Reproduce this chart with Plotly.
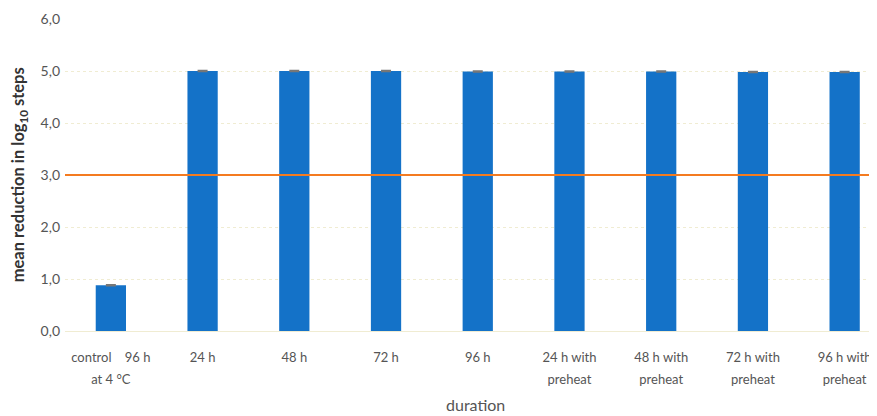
import plotly.graph_objects as go

categories = ["control at 4 °C", "24 h", "48 h", "72 h", "96 h",
              "24 h with preheat", "48 h with preheat", "72 h with preheat", "96 h with preheat"]
label_line1 = ["control    96 h", "24 h", "48 h", "72 h", "96 h",
               "24 h with", "48 h with", "72 h with", "96 h with"]
label_line2 = ["at 4 °C", "", "", "", "", "preheat", "preheat", "preheat", "preheat"]
mean_reduction = [0.88, 5.0, 5.0, 5.0, 4.99, 4.99, 4.99, 4.98, 4.98]
errors = [0.01, 0.01, 0.01, 0.01, 0.01, 0.01, 0.01, 0.01, 0.01]
threshold = 3.0
y_ticks = [0, 1, 2, 3, 4, 5, 6]

FONT = "Lato"
x_range = [-0.5, 8.44]

fig = go.Figure()
fig.add_trace(go.Bar(
    x=categories, y=mean_reduction,
    marker=dict(color="#1472C8", line=dict(width=0)),
    error_y=dict(type="data", array=errors, visible=True, color="#777777", thickness=1.5, width=5),
    showlegend=False, hoverinfo="skip",
))
# invisible carrier for the second tick-label line
fig.add_trace(go.Scatter(
    x=categories, y=mean_reduction, xaxis="x2", mode="markers",
    marker=dict(opacity=0), showlegend=False, hoverinfo="skip",
))
fig.add_shape(type="line", xref="paper", yref="y", x0=0, x1=1, y0=threshold, y1=threshold,
              line=dict(color="#F47B20", width=2.2), layer="above")

fig.update_layout(
    width=877, height=416,
    margin=dict(l=57, r=0, t=11, b=93),
    paper_bgcolor="white", plot_bgcolor="white",
    separators=",.",
    bargap=0.67,
    font=dict(family=FONT, size=14, color="#555555"),
    xaxis=dict(
        type="category", range=x_range, automargin=False,
        tickvals=categories, ticktext=label_line1,
        showgrid=False, zeroline=False, showline=False,
        ticks="", ticklabelstandoff=17,
        tickfont=dict(family=FONT, size=13, color="#555555"),
    ),
    xaxis2=dict(
        type="category", range=x_range, automargin=False, overlaying="x", side="bottom",
        anchor="y", tickvals=categories, ticktext=label_line2,
        showgrid=False, zeroline=False, showline=False,
        ticks="", ticklabelstandoff=39,
        tickfont=dict(family=FONT, size=13, color="#555555"),
    ),
    yaxis=dict(
        range=[0, 6], tickvals=y_ticks, tickformat=".1f", automargin=False,
        showgrid=True, gridcolor="#F0ECD2", griddash="dot", gridwidth=1,
        zeroline=True, zerolinecolor="#F0ECD2", zerolinewidth=1,
        showline=False, ticks="", ticklabelstandoff=4,
        tickfont=dict(family=FONT, size=14, color="#555555"),
    ),
    annotations=[
        dict(text="<b>mean reduction in log<sub>10</sub> steps</b>", textangle=-90,
             xref="paper", yref="paper", x=-0.057, y=0.5, xanchor="center", yanchor="middle",
             showarrow=False, font=dict(family=FONT, size=16.5, color="#333333")),
        dict(text="duration", xref="paper", yref="paper", x=0.5, y=-0.234,
             xanchor="center", yanchor="middle", showarrow=False,
             font=dict(family=FONT, size=16, color="#555555")),
    ],
)
fig.write_html("out.html")
